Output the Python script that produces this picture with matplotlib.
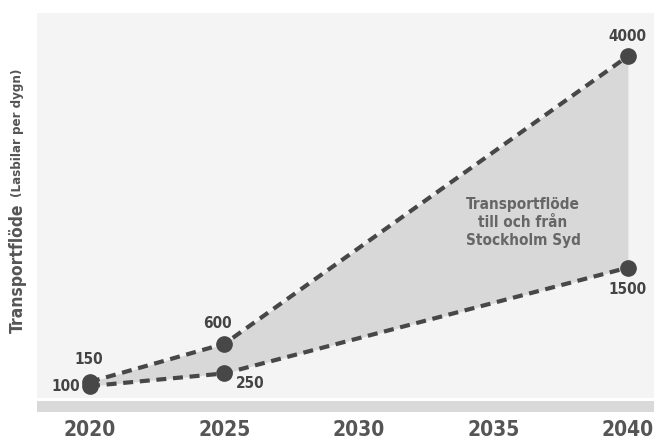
import matplotlib
matplotlib.use("Agg")
import matplotlib.pyplot as plt

# data
years = [2020, 2025, 2040]
high = [150, 600, 4000]
low = [100, 250, 1500]
tick_years = [2020, 2025, 2030, 2035, 2040]

plt.rcParams['font.family'] = ['DejaVu Sans']
plt.rcParams['font.stretch'] = 'condensed'

txt = '#555555'
dark = '#474747'

fig = plt.figure(figsize=(6.54, 4.4), dpi=100)
ax = fig.add_axes([37/654, 1-398/440, 1-37/654, 385/440])
ax.set_facecolor('#f4f4f4')

ax.fill_between(years, low, high, color='#d8d8d8', lw=0, zorder=1)
ax.plot(years, high, ls=(0, (2.4, 1.6)), lw=3, color=dark, zorder=2)
ax.plot(years, low, ls=(0, (2.4, 1.6)), lw=3, color=dark, zorder=2)
ax.plot(years, high, 'o', ms=11, color=dark, zorder=3)
ax.plot(years, low, 'o', ms=11, color=dark, zorder=3)

lab = dict(fontsize=11, fontweight='bold', color='#444444')
ax.annotate(str(high[0]), (years[0], high[0]), xytext=(-1, 11), textcoords='offset points', ha='center', va='bottom', **lab)
ax.annotate(str(low[0]), (years[0], low[0]), xytext=(-7, 0), textcoords='offset points', ha='right', va='center', **lab)
ax.annotate(str(high[1]), (years[1], high[1]), xytext=(-5, 9), textcoords='offset points', ha='center', va='bottom', **lab)
ax.annotate(str(low[1]), (years[1], low[1]), xytext=(8, -2), textcoords='offset points', ha='left', va='top', **lab)
ax.annotate(str(high[2]), (years[2], high[2]), xytext=(0, 9), textcoords='offset points', ha='center', va='bottom', **lab)
ax.annotate(str(low[2]), (years[2], low[2]), xytext=(0, -10), textcoords='offset points', ha='center', va='top', **lab)

ax.text(2036.1, 2030, 'Transportflöde\ntill och från\nStockholm Syd', ha='center', va='center',
        fontsize=11, fontweight='bold', color='#666666', linespacing=1.25)

ax.set_xlim(2018.03, 2040.97)
ax.set_ylim(-41, 4510)
ax.set_xticks(tick_years)
ax.set_xticklabels([str(y) for y in tick_years], fontsize=15, fontweight='bold', color=txt)
ax.tick_params(axis='x', length=0, pad=16)
ax.set_yticks([])
for s in ax.spines.values():
    s.set_visible(False)

# grey band under the plot
band = fig.add_axes([37/654, 1-412/440, 1-37/654, 11/440])
band.set_facecolor('#d9d9d9')
band.set_xticks([])
band.set_yticks([])
for s in band.spines.values():
    s.set_visible(False)

fig.text(18/654, 1-268/440, 'Transportflöde', rotation=90, ha='center', va='center',
         fontsize=12.5, fontweight='bold', color=txt)
fig.text(18/654, 1-133/440, '(Lasbilar per dygn)', rotation=90, ha='center', va='center',
         fontsize=9.5, fontweight='bold', color=txt)

fig.savefig('out.png', dpi=100)
